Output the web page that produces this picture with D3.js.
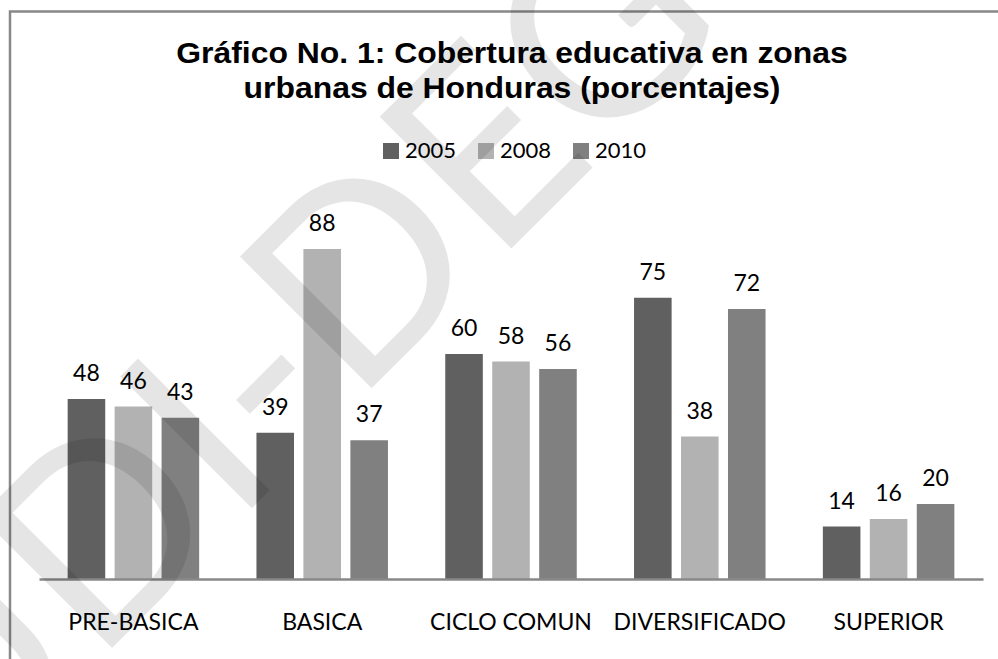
<!DOCTYPE html>
<html>
<head>
<meta charset="utf-8">
<script src="https://cdn.jsdelivr.net/npm/d3@7"></script>
<style>
  body { margin: 0; background: #fff; }
  svg { display: block; }
</style>
</head>
<body>
<div id="chart"></div>
<script>
// data
var categories = ['PRE-BASICA', 'BASICA', 'CICLO COMUN', 'DIVERSIFICADO', 'SUPERIOR'];
var years = ['2005', '2008', '2010'];
var values2005 = [48, 39, 60, 75, 14];
var values2008 = [46, 88, 58, 38, 16];
var values2010 = [43, 37, 56, 72, 20];
var titleLines = ['Gráfico No. 1: Cobertura educativa en zonas', 'urbanas de Honduras (porcentajes)'];

var seriesValues = [values2005, values2008, values2010];
var colors = ['#606060', '#b2b2b2', '#808080'];
var bodyFont = 'Lato, "Open Sans", sans-serif';

var W = 998, H = 659;
var svg = d3.select('#chart').append('svg')
    .attr('width', W)
    .attr('height', H);

// outer frame (right and bottom edges are cut off in the picture)
svg.append('rect')
    .attr('x', 10).attr('y', 11.5)
    .attr('width', 1100).attr('height', 800)
    .attr('fill', 'none')
    .attr('stroke', '#888')
    .attr('stroke-width', 2.5);

// title, a little wider than plain Arial bold
svg.append('g')
    .attr('transform', 'translate(512,0) scale(1.1,1)')
    .selectAll('text')
    .data(titleLines)
    .enter().append('text')
    .attr('x', 0)
    .attr('y', function(d, i) { return 63 + i * 35; })
    .attr('text-anchor', 'middle')
    .attr('font-family', '"Liberation Sans", Arial, sans-serif')
    .attr('font-weight', 'bold')
    .attr('font-size', 29)
    .attr('fill', '#000')
    .text(function(d) { return d; });

// legend
var legend = svg.append('g');
var items = legend.selectAll('g')
    .data(years)
    .enter().append('g')
    .attr('transform', function(d, i) { return 'translate(' + (383 + i * 95) + ',0)'; });
items.append('rect')
    .attr('x', 0).attr('y', 143)
    .attr('width', 16).attr('height', 16)
    .attr('fill', function(d, i) { return colors[i]; });
items.append('text')
    .attr('x', 22).attr('y', 158)
    .attr('font-family', bodyFont)
    .attr('font-size', 22)
    .attr('fill', '#000')
    .text(function(d) { return d; });

// scales
var x0 = d3.scaleBand().domain(categories).range([39, 983]).padding(0);
var x1 = d3.scaleBand().domain(years).range([0, x0.bandwidth()])
    .paddingInner(0.2).paddingOuter(0.61);
var y = d3.scaleLinear().domain([0, 100]).range([579, 204]);

var groups = svg.append('g').selectAll('g')
    .data(categories)
    .enter().append('g')
    .attr('transform', function(d) { return 'translate(' + x0(d) + ',0)'; });

groups.selectAll('rect')
    .data(function(d, ci) { return years.map(function(yr, si) { return {year: yr, si: si, v: seriesValues[si][ci]}; }); })
    .enter().append('rect')
    .attr('x', function(d) { return x1(d.year); })
    .attr('y', function(d) { return y(d.v); })
    .attr('width', x1.bandwidth())
    .attr('height', function(d) { return y(0) - y(d.v); })
    .attr('fill', function(d) { return colors[d.si]; });

groups.selectAll('text')
    .data(function(d, ci) { return years.map(function(yr, si) { return {year: yr, si: si, v: seriesValues[si][ci]}; }); })
    .enter().append('text')
    .attr('x', function(d) { return x1(d.year) + x1.bandwidth() / 2; })
    .attr('y', function(d) { return y(d.v) - 18; })
    .attr('text-anchor', 'middle')
    .attr('font-family', bodyFont)
    .attr('font-size', 23)
    .attr('fill', '#000')
    .text(function(d) { return d.v; });

// category axis
var xAxis = svg.append('g')
    .attr('transform', 'translate(0,' + y(0) + ')')
    .call(d3.axisBottom(x0).tickSize(0).tickPadding(35));
xAxis.select('.domain').attr('stroke', '#888').attr('stroke-width', 2.5);
xAxis.selectAll('text')
    .attr('font-family', bodyFont)
    .attr('font-size', 23)
    .attr('fill', '#000');

// watermark
svg.append('text')
    .attr('transform', 'translate(-40,800) rotate(-45)')
    .attr('font-family', bodyFont)
    .attr('font-size', 260)
    .attr('fill', '#000')
    .attr('fill-opacity', 0.1)
    .text('UDI-DEGT');
</script>
</body>
</html>
